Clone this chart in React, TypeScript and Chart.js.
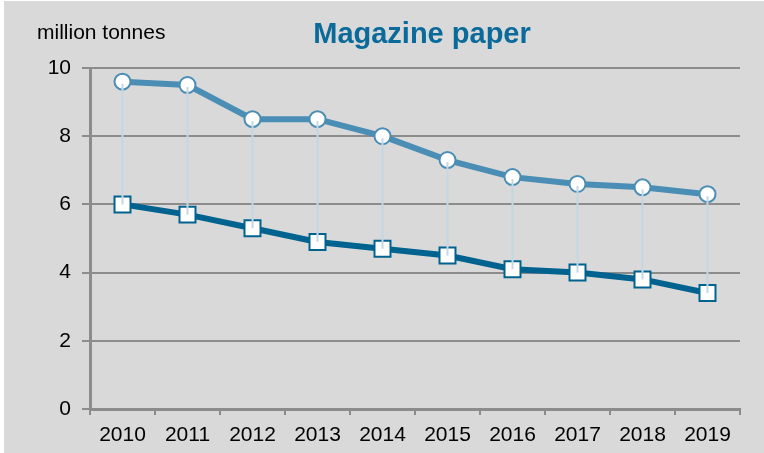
import React, { useEffect, useRef } from "react";
import { Chart, registerables } from "chart.js";

Chart.register(...registerables);

const years = ["2010", "2011", "2012", "2013", "2014", "2015", "2016", "2017", "2018", "2019"];
const upperSeries = [9.6, 9.5, 8.5, 8.5, 8.0, 7.3, 6.8, 6.6, 6.5, 6.3];
const lowerSeries = [6.0, 5.7, 5.3, 4.9, 4.7, 4.5, 4.1, 4.0, 3.8, 3.4];
const yTicks = [0, 2, 4, 6, 8, 10];
const titleText = "Magazine paper";
const unitText = "million tonnes";

const FONT = "'Liberation Sans', Arial, sans-serif";
const UPPER_COLOR = "#4a8db5";
const LOWER_COLOR = "#00638f";
const GRID_COLOR = "#8c8c8c";
const BG = "#d9d9d9";

const bgPlugin = {
  id: "bg",
  beforeDraw(chart: any) {
    const { ctx, width, height } = chart;
    ctx.save();
    ctx.fillStyle = "#ffffff";
    ctx.fillRect(0, 0, width, height);
    ctx.fillStyle = BG;
    ctx.fillRect(4, 1, width - 4, height - 1);
    ctx.restore();
  },
  afterDraw(chart: any) {
    const { ctx } = chart;
    ctx.save();
    ctx.fillStyle = "#0a6a9a";
    ctx.font = `bold 29px ${FONT}`;
    ctx.textAlign = "center";
    ctx.textBaseline = "alphabetic";
    ctx.fillText(titleText, 422, 43);
    ctx.fillStyle = "#000000";
    ctx.font = `21px ${FONT}`;
    ctx.textAlign = "left";
    ctx.fillText(unitText, 37, 39);
    ctx.restore();
  },
};

const dropLinePlugin = {
  id: "dropLines",
  afterDatasetsDraw(chart: any) {
    const { ctx } = chart;
    const m0 = chart.getDatasetMeta(0);
    const m1 = chart.getDatasetMeta(1);
    ctx.save();
    ctx.strokeStyle = "#c3d7e5";
    ctx.lineWidth = 2;
    for (let i = 0; i < m0.data.length; i++) {
      const a = m0.data[i];
      const b = m1.data[i];
      ctx.beginPath();
      ctx.moveTo(a.x, a.y + 2);
      ctx.lineTo(b.x, b.y);
      ctx.stroke();
    }
    ctx.restore();
  },
};

export default function App() {
  const ref = useRef<HTMLCanvasElement>(null);
  useEffect(() => {
    document.body.style.margin = "0";
    const chart = new Chart(ref.current!, {
      type: "line",
      data: {
        labels: years,
        datasets: [
          {
            data: upperSeries,
            borderColor: UPPER_COLOR,
            borderWidth: 6,
            pointStyle: "circle",
            pointRadius: 8,
            pointBorderWidth: 2,
            pointBackgroundColor: "#ffffff",
            pointBorderColor: UPPER_COLOR,
            tension: 0,
          },
          {
            data: lowerSeries,
            borderColor: LOWER_COLOR,
            borderWidth: 6,
            pointStyle: "rect",
            pointRadius: 11.3,
            pointBorderWidth: 2,
            pointBackgroundColor: "#ffffff",
            pointBorderColor: LOWER_COLOR,
            tension: 0,
          },
        ],
      },
      options: {
        responsive: false,
        animation: false,
        devicePixelRatio: 1,
        layout: { padding: { left: 0, right: 24, top: 68, bottom: 0 } },
        plugins: {
          legend: { display: false },
          tooltip: { enabled: false },
          title: { display: false },
        },
        scales: {
          x: {
            type: "category",
            offset: true,
            grid: {
              offset: true,
              drawOnChartArea: false,
              drawTicks: true,
              tickLength: 6,
              color: GRID_COLOR,
              lineWidth: 2,
            },
            border: { display: true, color: GRID_COLOR, width: 3 },
            ticks: {
              color: "#000000",
              font: { family: FONT, size: 21 },
              padding: 8,
              maxRotation: 0,
              autoSkip: false,
            },
            afterFit(scale: any) {
              scale.height = 44;
            },
          },
          y: {
            min: 0,
            max: 10,
            afterBuildTicks(scale: any) {
              scale.ticks = yTicks.map((v) => ({ value: v }));
            },
            grid: {
              color: GRID_COLOR,
              lineWidth: 2,
              tickLength: 8,
              drawTicks: true,
            },
            border: { display: true, color: GRID_COLOR, width: 3 },
            ticks: {
              color: "#000000",
              font: { family: FONT, size: 21 },
              padding: 11,
            },
            afterFit(scale: any) {
              scale.width = 90;
            },
          },
        },
      },
      plugins: [bgPlugin, dropLinePlugin],
    });
    return () => chart.destroy();
  }, []);
  return <canvas ref={ref} width={764} height={453} style={{ display: "block" }} />;
}
